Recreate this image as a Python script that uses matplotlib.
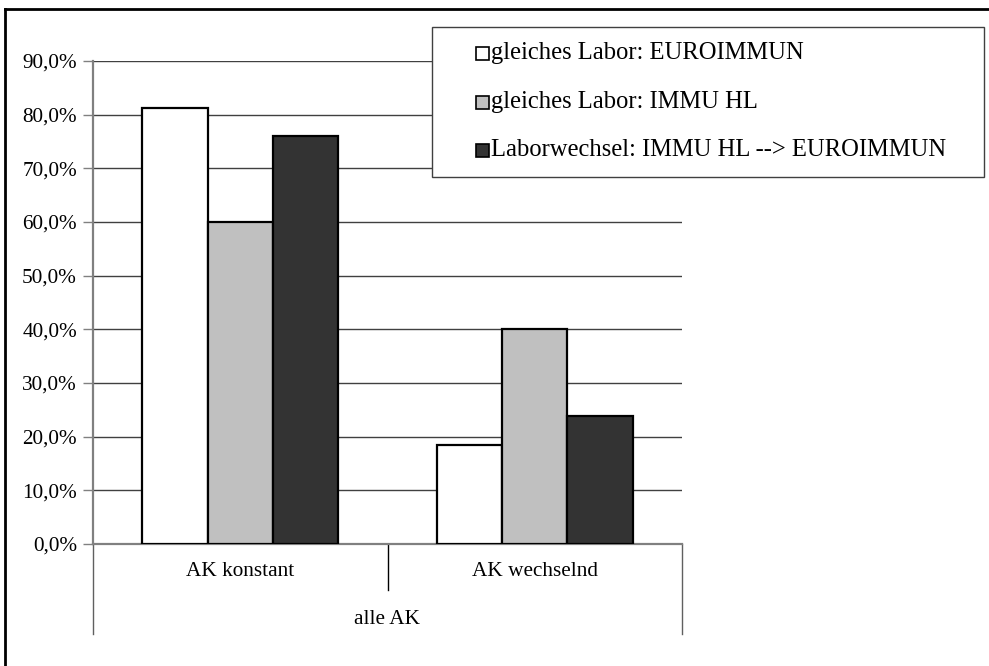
import matplotlib
matplotlib.use("Agg")
import matplotlib.pyplot as plt
from matplotlib.lines import Line2D
from matplotlib.patches import Rectangle
import numpy as np

plt.rcParams['font.family'] = ['Liberation Serif', 'DejaVu Serif']

categories = ['AK konstant', 'AK wechselnd']
group_label = 'alle AK'
series_names = ['gleiches Labor: EUROIMMUN',
                'gleiches Labor: IMMU HL',
                'Laborwechsel: IMMU HL --> EUROIMMUN']
euroimmun = [81.3, 18.4]
immu_hl = [60.0, 40.0]
wechsel = [76.1, 23.9]
colors = ['#ffffff', '#c0c0c0', '#333333']

W, H = 989, 666
fig = plt.figure(figsize=(W / 100, H / 100), dpi=100)
ax = fig.add_axes([93 / W, (H - 544) / H, (682 - 93) / W, (544 - 61) / H])

x = np.arange(len(categories))
bw = 0.222
for i, (vals, c) in enumerate(zip([euroimmun, immu_hl, wechsel], colors)):
    ax.bar(x + (i - 1) * bw, vals, width=bw, color=c, edgecolor='black',
           linewidth=1.6, zorder=3)

ax.set_xlim(-0.5, 1.5)
ax.set_ylim(0, 90)
ax.set_yticks(np.arange(0, 91, 10))
ax.set_yticklabels([f"{v:.1f}%".replace('.', ',') for v in np.arange(0, 91, 10)],
                   fontsize=15.3)
ax.set_xticks([])
ax.yaxis.grid(True, color='#404040', linewidth=1, zorder=0)
ax.tick_params(axis='y', direction='out', length=7, width=1, color='#808080', pad=4.5)
for s in ['top', 'right']:
    ax.spines[s].set_visible(False)
for s in ['left', 'bottom']:
    ax.spines[s].set_color('#808080')
    ax.spines[s].set_linewidth(1.6)

# category axis below the plot
tr = ax.get_xaxis_transform()
ah = 544 - 61
for xv, depth in [(-0.5, 634), (0.5, 590), (1.5, 634)]:
    ax.add_line(Line2D([xv, xv], [0, -(depth - 544) / ah], transform=tr,
                       color='black' if xv == 0.5 else '#606060', lw=1, clip_on=False))
for xv, lab in zip(x, categories):
    ax.text(xv, -(571 - 544) / ah, lab, transform=tr, ha='center', va='center', fontsize=15.3)
ax.text(0.5, -(620 - 544) / ah, group_label, transform=tr, ha='center', va='center', fontsize=15.3)

# legend box drawn by hand
lx0, lx1, ly0, ly1 = 432, 984, 27, 177
fig.patches.append(Rectangle((lx0 / W, (H - ly1) / H), (lx1 - lx0) / W, (ly1 - ly0) / H,
                             transform=fig.transFigure, facecolor='white',
                             edgecolor='#404040', lw=1, zorder=5))
for yc, name, c in zip([53, 102, 150], series_names, colors):
    fig.patches.append(Rectangle((476 / W, (H - yc - 6.5) / H), 13 / W, 13 / H,
                                 transform=fig.transFigure, facecolor=c,
                                 edgecolor='black', lw=1.2, zorder=6))
    fig.text(491 / W, (H - yc) / H, name, ha='left', va='center', fontsize=17.7, zorder=7)

# outer frame
fig.add_artist(Line2D([5 / W, 5 / W], [0, (H - 9) / H], color='black', lw=2))
fig.add_artist(Line2D([5 / W, 1], [(H - 9) / H, (H - 9) / H], color='black', lw=2))

fig.savefig('out.png', dpi=100)
